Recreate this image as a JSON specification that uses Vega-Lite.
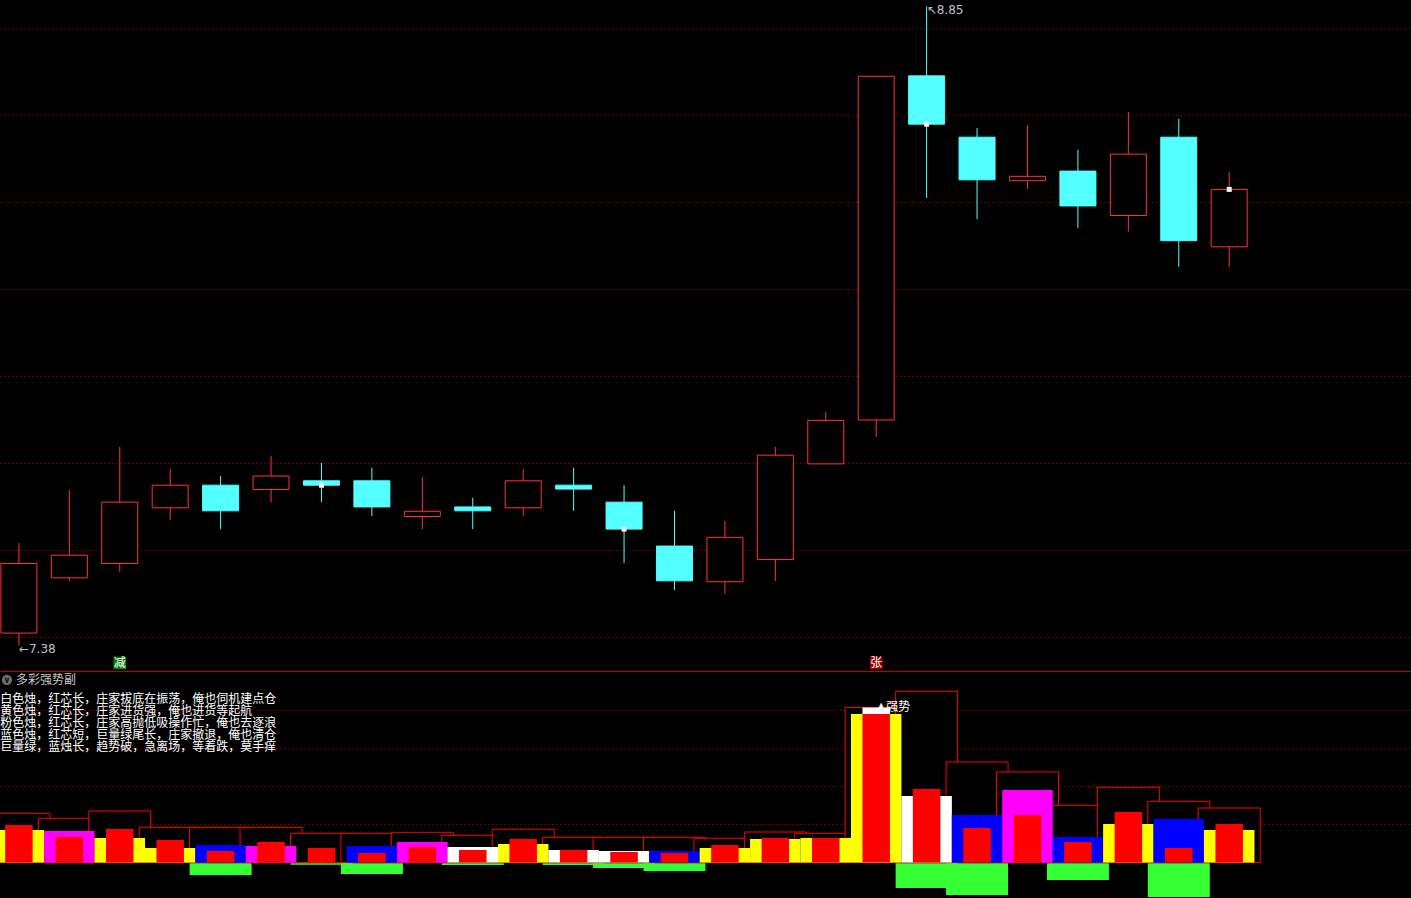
{
  "$schema": "https://vega.github.io/schema/vega-lite/v6.json",
  "background": "#000000",
  "padding": 0,
  "spacing": 0,
  "config": {
    "view": {"stroke": null},
    "axis": {"title": null, "labels": false, "ticks": false, "domain": false, "grid": false, "minExtent": 0, "maxExtent": 0, "labelPadding": 0, "tickSize": 0},
    "axisY": {"grid": true, "gridColor": "#d00000", "gridDash": [1, 3], "gridWidth": 1},
    "text": {"font": "Noto Sans CJK SC"}
  },
  "datasets": {
    "k": [
      {"i": 0, "o": 7.409, "h": 7.616, "l": 7.38, "c": 7.569, "w": false},
      {"i": 1, "o": 7.536, "h": 7.738, "l": 7.529, "c": 7.588, "w": false},
      {"i": 2, "o": 7.569, "h": 7.837, "l": 7.55, "c": 7.71, "w": false},
      {"i": 3, "o": 7.697, "h": 7.786, "l": 7.669, "c": 7.749, "w": false},
      {"i": 4, "o": 7.749, "h": 7.77, "l": 7.648, "c": 7.69, "w": false},
      {"i": 5, "o": 7.739, "h": 7.816, "l": 7.71, "c": 7.77, "w": false},
      {"i": 6, "o": 7.759, "h": 7.8, "l": 7.71, "c": 7.749, "w": true},
      {"i": 7, "o": 7.759, "h": 7.789, "l": 7.678, "c": 7.699, "w": false},
      {"i": 8, "o": 7.677, "h": 7.768, "l": 7.648, "c": 7.689, "w": false},
      {"i": 9, "o": 7.699, "h": 7.72, "l": 7.648, "c": 7.69, "w": false},
      {"i": 10, "o": 7.697, "h": 7.786, "l": 7.678, "c": 7.759, "w": false},
      {"i": 11, "o": 7.749, "h": 7.789, "l": 7.69, "c": 7.74, "w": false},
      {"i": 12, "o": 7.71, "h": 7.749, "l": 7.57, "c": 7.648, "w": true},
      {"i": 13, "o": 7.609, "h": 7.69, "l": 7.508, "c": 7.529, "w": false},
      {"i": 14, "o": 7.527, "h": 7.667, "l": 7.499, "c": 7.629, "w": false},
      {"i": 15, "o": 7.578, "h": 7.837, "l": 7.529, "c": 7.818, "w": false},
      {"i": 16, "o": 7.798, "h": 7.917, "l": 7.798, "c": 7.898, "w": false},
      {"i": 17, "o": 7.899, "h": 8.689, "l": 7.86, "c": 8.689, "w": false},
      {"i": 18, "o": 8.69, "h": 8.85, "l": 8.409, "c": 8.579, "w": true},
      {"i": 19, "o": 8.549, "h": 8.57, "l": 8.361, "c": 8.451, "w": false},
      {"i": 20, "o": 8.449, "h": 8.577, "l": 8.43, "c": 8.459, "w": false},
      {"i": 21, "o": 8.471, "h": 8.52, "l": 8.34, "c": 8.391, "w": false},
      {"i": 22, "o": 8.369, "h": 8.607, "l": 8.332, "c": 8.51, "w": false},
      {"i": 23, "o": 8.549, "h": 8.591, "l": 8.251, "c": 8.311, "w": false},
      {"i": 24, "o": 8.297, "h": 8.469, "l": 8.251, "c": 8.429, "w": true}
    ],
    "pk": [
      {"i": 0, "p": 7.38, "t": "←7.38"},
      {"i": 18, "p": 8.85, "t": "↖8.85"}
    ],
    "flags": [
      {"i": 2, "p": 7.3402, "t": "减"},
      {"i": 17, "p": 7.3402, "t": "张"}
    ],
    "v": [
      {"i": 0, "ol": 1.295, "k": "黄色烛", "cv": 0.855, "r": 0.987, "g": null, "wc": null},
      {"i": 1, "ol": 1.163, "k": "粉色烛", "cv": 0.829, "r": 0.671, "g": null, "wc": null},
      {"i": 2, "ol": 1.355, "k": "黄色烛", "cv": 0.645, "r": 0.882, "g": null, "wc": null},
      {"i": 3, "ol": 0.926, "k": "黄色烛", "cv": 0.382, "r": 0.592, "g": null, "wc": null},
      {"i": 4, "ol": 0.926, "k": "蓝色烛", "cv": 0.461, "r": 0.303, "g": -0.329, "wc": null},
      {"i": 5, "ol": 0.926, "k": "粉色烛", "cv": 0.434, "r": 0.539, "g": null, "wc": null},
      {"i": 6, "ol": 0.768, "k": null, "cv": null, "r": 0.382, "g": -0.057, "wc": null},
      {"i": 7, "ol": 0.768, "k": "蓝色烛", "cv": 0.434, "r": 0.25, "g": -0.303, "wc": null},
      {"i": 8, "ol": 0.795, "k": "粉色烛", "cv": 0.539, "r": 0.408, "g": null, "wc": null},
      {"i": 9, "ol": 0.716, "k": "白色烛", "cv": 0.408, "r": 0.329, "g": -0.066, "wc": null},
      {"i": 10, "ol": 0.874, "k": "黄色烛", "cv": 0.487, "r": 0.618, "g": null, "wc": null},
      {"i": 11, "ol": 0.663, "k": "白色烛", "cv": 0.329, "r": 0.329, "g": -0.066, "wc": null},
      {"i": 12, "ol": 0.663, "k": "白色烛", "cv": 0.303, "r": 0.276, "g": -0.145, "wc": null},
      {"i": 13, "ol": 0.663, "k": "蓝色烛", "cv": 0.303, "r": 0.25, "g": -0.224, "wc": null},
      {"i": 14, "ol": 0.637, "k": "黄色烛", "cv": 0.382, "r": 0.461, "g": null, "wc": null},
      {"i": 15, "ol": 0.803, "k": "黄色烛", "cv": 0.618, "r": 0.645, "g": null, "wc": null},
      {"i": 16, "ol": 0.768, "k": "黄色烛", "cv": 0.645, "r": 0.645, "g": null, "wc": null},
      {"i": 17, "ol": 4.08, "k": "黄色烛", "cv": 3.908, "r": 3.908, "g": null, "wc": 4.08},
      {"i": 18, "ol": 4.505, "k": "白色烛", "cv": 1.75, "r": 1.934, "g": -0.671, "wc": null},
      {"i": 19, "ol": 2.645, "k": "蓝色烛", "cv": 1.25, "r": 0.908, "g": -0.855, "wc": null},
      {"i": 20, "ol": 2.382, "k": "粉色烛", "cv": 1.908, "r": 1.25, "g": null, "wc": null},
      {"i": 21, "ol": 1.505, "k": "蓝色烛", "cv": 0.671, "r": 0.539, "g": -0.461, "wc": null},
      {"i": 22, "ol": 1.979, "k": "黄色烛", "cv": 1.013, "r": 1.329, "g": null, "wc": null},
      {"i": 23, "ol": 1.61, "k": "蓝色烛", "cv": 1.145, "r": 0.382, "g": -0.908, "wc": null},
      {"i": 24, "ol": 1.434, "k": "黄色烛", "cv": 0.855, "r": 1.013, "g": null, "wc": null}
    ],
    "head": [
      {"x": -0.0575, "y": 4.803, "t": "多彩强势副"}
    ],
    "icon": [
      {"x": -0.236, "y": 4.803, "t": "∨"}
    ],
    "notes": [
      {"x": -0.37, "y": 4.434, "t": "白色烛，红芯长，庄家拔底在振荡，俺也伺机建点仓\n黄色烛，红芯长，庄家进货强，俺也进货等起航\n粉色烛，红芯长，庄家高抛低吸操作忙，俺也去逐浪\n蓝色烛，红芯短，巨量绿尾长，庄家撤退，俺也清仓\n巨量绿，蓝烛长，趋势破，急离场，等着跌，莫手痒"}
    ],
    "sig": [
      {"i": 17, "v": 4.08, "t": "强势"}
    ]
  },
  "vconcat": [
    {
      "width": 1411,
      "height": 671,
      "layer": [
        {
          "data": {"name": "k"},
          "mark": {"type": "rule", "clip": true, "strokeWidth": 1},
          "encoding": {
            "x": {"field": "i", "type": "quantitative", "scale": {"domain": [-0.3748, 27.605], "nice": false, "zero": false, "padding": 0}, "axis": {"domain": true, "domainColor": "#c00000", "domainWidth": 1}},
            "y": {"field": "l", "type": "quantitative", "scale": {"domain": [7.3218, 8.8644], "nice": false, "zero": false, "padding": 0}, "axis": {"values": [7.4, 7.6, 7.8, 8.0, 8.2, 8.4, 8.6, 8.8]}},
            "y2": {"field": "h"},
            "color": {"condition": {"test": "datum.c >= datum.o", "value": "#ff3333"}, "value": "#54ffff"}
          }
        },
        {
          "data": {"name": "k"},
          "mark": {"type": "bar", "size": 36, "clip": true, "strokeWidth": 1},
          "encoding": {
            "x": {"field": "i", "type": "quantitative"},
            "y": {"field": "o", "type": "quantitative"},
            "y2": {"field": "c"},
            "fill": {"condition": {"test": "datum.c >= datum.o", "value": "#000000"}, "value": "#54ffff"},
            "stroke": {"condition": {"test": "datum.c >= datum.o", "value": "#ff3333"}, "value": "#54ffff"}
          }
        },
        {
          "data": {"name": "k"},
          "transform": [{"filter": "datum.w"}],
          "mark": {"type": "square", "size": 25, "color": "#ffffff", "opacity": 1},
          "encoding": {
            "x": {"field": "i", "type": "quantitative"},
            "y": {"field": "c", "type": "quantitative"}
          }
        },
        {
          "data": {"name": "pk"},
          "mark": {"type": "text", "align": "left", "baseline": "middle", "dy": 3.5, "fontSize": 12, "font": "DejaVu Sans", "color": "#c0c0c0"},
          "encoding": {
            "x": {"field": "i", "type": "quantitative"},
            "y": {"field": "p", "type": "quantitative"},
            "text": {"field": "t"}
          }
        },
        {
          "data": {"name": "flags"},
          "mark": {"type": "square", "size": 160, "opacity": 1},
          "encoding": {
            "x": {"field": "i", "type": "quantitative"},
            "y": {"field": "p", "type": "quantitative"},
            "color": {"field": "t", "type": "nominal", "scale": {"domain": ["减", "张"], "range": ["#008000", "#990000"]}, "legend": null}
          }
        },
        {
          "data": {"name": "flags"},
          "mark": {"type": "text", "align": "center", "baseline": "middle", "fontSize": 12, "color": "#ffffff"},
          "encoding": {
            "x": {"field": "i", "type": "quantitative"},
            "y": {"field": "p", "type": "quantitative"},
            "text": {"field": "t"}
          }
        }
      ]
    },
    {
      "width": 1411,
      "height": 227,
      "layer": [
        {
          "data": {"name": "v"},
          "mark": {"type": "bar", "size": 62, "clip": true, "fill": "#000000", "stroke": "#ff0000", "strokeWidth": 1},
          "encoding": {
            "x": {"field": "i", "type": "quantitative", "scale": {"domain": [-0.3748, 27.605], "nice": false, "zero": false, "padding": 0}},
            "y": {"field": "ol", "type": "quantitative", "scale": {"domain": [-0.934, 5.039], "nice": false, "zero": false, "padding": 0}, "axis": {"values": [1, 2, 3, 4]}},
            "y2": {"datum": 0}
          }
        },
        {
          "data": {"name": "v"},
          "mark": {"type": "bar", "size": 50.5, "clip": true},
          "encoding": {
            "x": {"field": "i", "type": "quantitative"},
            "y": {"field": "cv", "type": "quantitative"},
            "y2": {"datum": 0},
            "fill": {"field": "k", "type": "nominal", "scale": {"domain": ["白色烛", "黄色烛", "粉色烛", "蓝色烛"], "range": ["#ffffff", "#ffff00", "#ff00ff", "#0000ff"]}, "legend": null}
          }
        },
        {
          "data": {"name": "v"},
          "mark": {"type": "bar", "size": 27.5, "clip": true, "fill": "#ffffff"},
          "encoding": {
            "x": {"field": "i", "type": "quantitative"},
            "y": {"field": "wc", "type": "quantitative"},
            "y2": {"datum": 0}
          }
        },
        {
          "data": {"name": "v"},
          "mark": {"type": "bar", "size": 27.5, "clip": true, "fill": "#ff0000"},
          "encoding": {
            "x": {"field": "i", "type": "quantitative"},
            "y": {"field": "r", "type": "quantitative"},
            "y2": {"datum": 0}
          }
        },
        {
          "data": {"name": "v"},
          "mark": {"type": "bar", "size": 62, "clip": true, "fill": "#33ff33"},
          "encoding": {
            "x": {"field": "i", "type": "quantitative"},
            "y": {"field": "g", "type": "quantitative"},
            "y2": {"datum": -0.02}
          }
        },
        {
          "data": {"name": "sig"},
          "mark": {"type": "text", "align": "center", "baseline": "middle", "dx": 5, "dy": -1, "fontSize": 8, "font": "DejaVu Sans", "color": "#ffffff"},
          "encoding": {
            "x": {"field": "i", "type": "quantitative"},
            "y": {"field": "v", "type": "quantitative"},
            "text": {"value": "▲"}
          }
        },
        {
          "data": {"name": "sig"},
          "mark": {"type": "text", "align": "left", "baseline": "middle", "dx": 10, "fontSize": 12, "color": "#ffffff"},
          "encoding": {
            "x": {"field": "i", "type": "quantitative"},
            "y": {"field": "v", "type": "quantitative"},
            "text": {"field": "t"}
          }
        },
        {
          "data": {"name": "icon"},
          "mark": {"type": "circle", "size": 105, "color": "#6e6e6e", "opacity": 1},
          "encoding": {
            "x": {"field": "x", "type": "quantitative"},
            "y": {"field": "y", "type": "quantitative"}
          }
        },
        {
          "data": {"name": "icon"},
          "mark": {"type": "text", "align": "center", "baseline": "middle", "fontSize": 9, "fontWeight": "bold", "font": "DejaVu Sans", "color": "#1a1a1a"},
          "encoding": {
            "x": {"field": "x", "type": "quantitative"},
            "y": {"field": "y", "type": "quantitative"},
            "text": {"field": "t"}
          }
        },
        {
          "data": {"name": "head"},
          "mark": {"type": "text", "align": "left", "baseline": "middle", "fontSize": 12, "color": "#c8c8c8"},
          "encoding": {
            "x": {"field": "x", "type": "quantitative"},
            "y": {"field": "y", "type": "quantitative"},
            "text": {"field": "t"}
          }
        },
        {
          "data": {"name": "notes"},
          "mark": {"type": "text", "align": "left", "baseline": "top", "lineBreak": "\n", "lineHeight": 12, "fontSize": 12, "color": "#ffffff"},
          "encoding": {
            "x": {"field": "x", "type": "quantitative"},
            "y": {"field": "y", "type": "quantitative"},
            "text": {"field": "t"}
          }
        }
      ]
    }
  ]
}
